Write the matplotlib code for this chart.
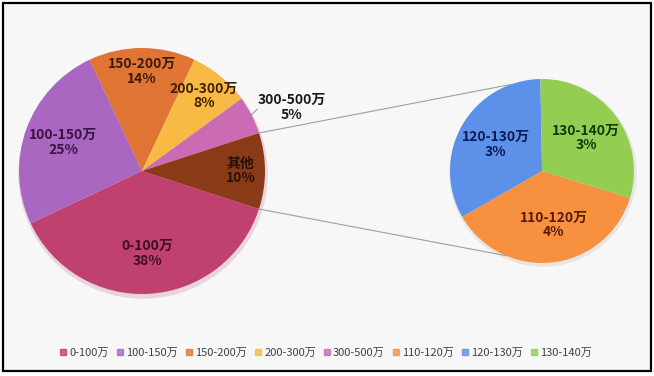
import matplotlib
matplotlib.use("Agg")
import matplotlib.pyplot as plt
import matplotlib.patches as mpatches
import numpy as np

plt.rcParams['font.family'] = ['Noto Sans CJK SC', 'DejaVu Sans']

# main pie data
main_labels = ['0-100万', '100-150万', '150-200万', '200-300万', '300-500万', '其他']
main_values = [38, 25, 14, 8, 5, 10]
main_colors = ['#C0416F', '#A967C2', '#DF7435', '#F9BA45', '#CA6BB4', '#8A3A16']
main_text_colors = ['#3D0F22', '#3A1245', '#3D1A0A', '#3D1F05', '#1A1A1A', '#2A1005']
main_label_dist = [0.67, 0.68, 0.81, 0.79, 1.32, 0.80]
main_label_turn = [0, 0, 0, 0, -4, 0]   # degrees, nudges label off the bisector

# secondary pie data (breakdown of "其他")
sub_labels = ['110-120万', '120-130万', '130-140万']
sub_values = [3.7, 3.3, 3.0]
sub_colors = ['#F7913F', '#5D90E9', '#93CD52']
sub_text_colors = ['#5A1A08', '#0D1A55', '#0F3A0A']
sub_label_dist = [0.60, 0.58, 0.60]
sub_label_turn = [6, 0, 0]

W, H = 654, 376
fig = plt.figure(figsize=(W / 100, H / 100), dpi=100)
ax = fig.add_axes([0, 0, 1, 1])

# chart frame
ax.add_patch(mpatches.Rectangle((3, 5), 648, 368, facecolor='#F7F7F7',
                                edgecolor='black', linewidth=1.6, zorder=0))

main_c, main_r = (142, 205), 123
sub_c, sub_r = (542, 205), 92

# soft shadows
ax.add_patch(mpatches.Circle((main_c[0] + 1, main_c[1] - 3), main_r + 1,
                             color='#E9D3DC', zorder=1))
ax.add_patch(mpatches.Circle((sub_c[0] + 1, sub_c[1] - 2), sub_r + 1,
                             color='#E6E6E6', zorder=1))

w_main, _ = ax.pie(main_values, colors=main_colors, startangle=-18,
                   counterclock=False, center=main_c, radius=main_r,
                   wedgeprops=dict(linewidth=0))
w_sub, _ = ax.pie(sub_values, colors=sub_colors, startangle=-17,
                  counterclock=False, center=sub_c, radius=sub_r,
                  wedgeprops=dict(linewidth=0))


def put_labels(wedges, labels, values, dists, turns, colors, c, r):
    for w, lab, v, d, t, col in zip(wedges, labels, values, dists, turns, colors):
        a = np.deg2rad((w.theta1 + w.theta2) / 2 + t)
        x = c[0] + d * r * np.cos(a)
        y = c[1] + d * r * np.sin(a)
        ax.text(x, y, f'{lab}\n{v:.0f}%', ha='center', va='center',
                fontsize=10, fontweight='bold', color=col, linespacing=1.05,
                zorder=5)


put_labels(w_main, main_labels, main_values, main_label_dist, main_label_turn,
           main_text_colors, main_c, main_r)
put_labels(w_sub, sub_labels, sub_values, sub_label_dist, sub_label_turn,
           sub_text_colors, sub_c, sub_r)

# small leader for the 300-500 label
w5 = w_main[4]
a5 = np.deg2rad((w5.theta1 + w5.theta2) / 2)
ax.plot([main_c[0] + main_r * 0.99 * np.cos(a5), main_c[0] + main_r * 1.05 * np.cos(a5)],
        [main_c[1] + main_r * 0.99 * np.sin(a5), main_c[1] + main_r * 1.05 * np.sin(a5) + 3],
        color='#909090', lw=0.7, zorder=4)

# connector lines between the "其他" slice and the secondary pie
other = w_main[-1]
for t_main, t_sub in [(other.theta2, 110), (other.theta1, 247)]:
    p0 = (main_c[0] + main_r * np.cos(np.deg2rad(t_main)),
          main_c[1] + main_r * np.sin(np.deg2rad(t_main)))
    p1 = (sub_c[0] + sub_r * np.cos(np.deg2rad(t_sub)),
          sub_c[1] + sub_r * np.sin(np.deg2rad(t_sub)))
    ax.plot([p0[0], p1[0]], [p0[1], p1[1]], color='#A0A0A0', lw=0.8, zorder=1.5)

ax.set_xlim(0, W)
ax.set_ylim(0, H)
ax.set_aspect('auto')
ax.axis('off')

# legend
handles = [mpatches.Patch(color=c, alpha=0.8) for c in main_colors[:5] + sub_colors]
fig.legend(handles, main_labels[:5] + sub_labels, loc='center',
           bbox_to_anchor=(326 / W, 1 - 353 / H), ncol=8, frameon=False,
           fontsize=8, handlelength=0.55, handleheight=0.55,
           handletextpad=0.3, columnspacing=0.7, labelcolor='#404040')

fig.savefig('out.png', dpi=100, facecolor='white')
